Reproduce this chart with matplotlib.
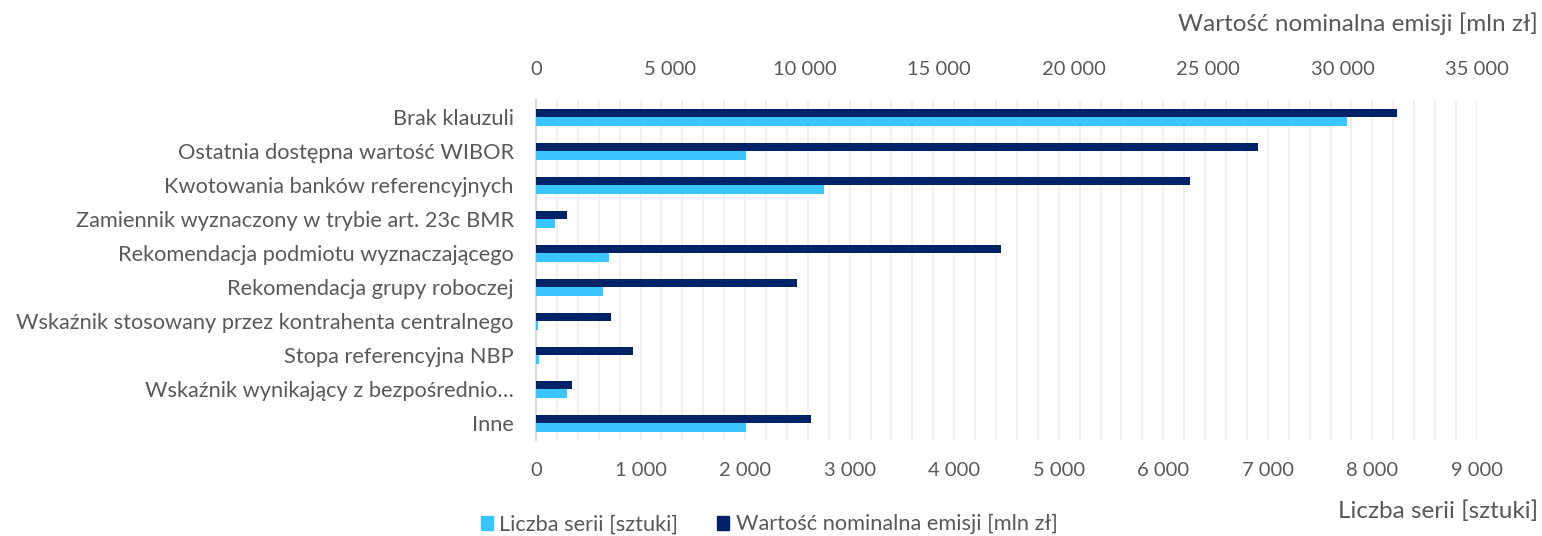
import matplotlib
matplotlib.use('Agg')
import matplotlib.pyplot as plt
from matplotlib.ticker import MultipleLocator, FuncFormatter
from matplotlib.patches import Patch

# data
categories = [
    'Brak klauzuli',
    'Ostatnia dostępna wartość WIBOR',
    'Kwotowania banków referencyjnych',
    'Zamiennik wyznaczony w trybie art. 23c BMR',
    'Rekomendacja podmiotu wyznaczającego',
    'Rekomendacja grupy roboczej',
    'Wskaźnik stosowany przez kontrahenta centralnego',
    'Stopa referencyjna NBP',
    'Wskaźnik wynikający z bezpośrednio…',
    'Inne',
]
liczba_serii = [7760, 2010, 2755, 180, 700, 640, 15, 25, 292, 2010]
wartosc_nominalna = [32030, 26870, 24330, 1145, 17290, 9710, 2785, 3610, 1330, 10230]

light_blue = '#39c5ff'
navy = '#002266'
text_col = '#595959'
grid_col = '#efefef'

plt.rcParams['font.family'] = ['Lato', 'DejaVu Sans']

fig = plt.figure(figsize=(15.42, 5.36), dpi=100)
ax = fig.add_axes([0.3476, 0.1791, 0.6102, 0.6343])
ax2 = ax.twiny()

y = list(range(len(categories)))
h = 0.25
ax.barh([v + h / 2 for v in y], liczba_serii, height=h, color=light_blue,
        label='Liczba serii [sztuki]', zorder=3)
ax2.barh([v - h / 2 for v in y], wartosc_nominalna, height=h, color=navy,
         label='Wartość nominalna emisji [mln zł]', zorder=3)

ax.set_xlim(0, 9000)
ax2.set_xlim(0, 35000)
ax.set_ylim(len(categories) - 0.5, -0.5)

fmt = FuncFormatter(lambda v, p: f'{int(v):,}'.replace(',', ' '))
ax.xaxis.set_major_locator(MultipleLocator(1000))
ax.xaxis.set_minor_locator(MultipleLocator(200))
ax.xaxis.set_major_formatter(fmt)
ax2.xaxis.set_major_locator(MultipleLocator(5000))
ax2.xaxis.set_major_formatter(fmt)

ax.grid(True, axis='x', which='both', color=grid_col, linewidth=1.3, zorder=0)
ax.set_axisbelow(True)

ax.set_yticks(y)
ax.set_yticklabels(categories)

for a in (ax, ax2):
    for s in a.spines.values():
        s.set_visible(False)
    a.tick_params(axis='x', which='both', length=0, colors=text_col, labelsize=14.5, pad=16)
    a.tick_params(axis='y', length=0, colors=text_col, labelsize=15.7, pad=16)
ax.spines['left'].set_visible(True)
ax.spines['left'].set_color('#d9d9d9')
ax.spines['left'].set_linewidth(1.5)
ax.spines['left'].set_zorder(2)

fig.text(0.9974, 0.955, 'Wartość nominalna emisji [mln zł]', ha='right', va='center',
         color=text_col, fontsize=17.5)
fig.text(0.9974, 0.047, 'Liczba serii [sztuki]', ha='right', va='center',
         color=text_col, fontsize=17.5)

handles = [Patch(color=light_blue, label='Liczba serii [sztuki]'),
           Patch(color=navy, label='Wartość nominalna emisji [mln zł]')]
fig.legend(handles=handles, loc='center left', bbox_to_anchor=(0.299, 0.022),
           ncol=2, frameon=False, fontsize=15.7, labelcolor=text_col,
           handlelength=0.55, handleheight=0.6, handletextpad=0.3, columnspacing=1.8)

fig.savefig('out.png', dpi=100)
